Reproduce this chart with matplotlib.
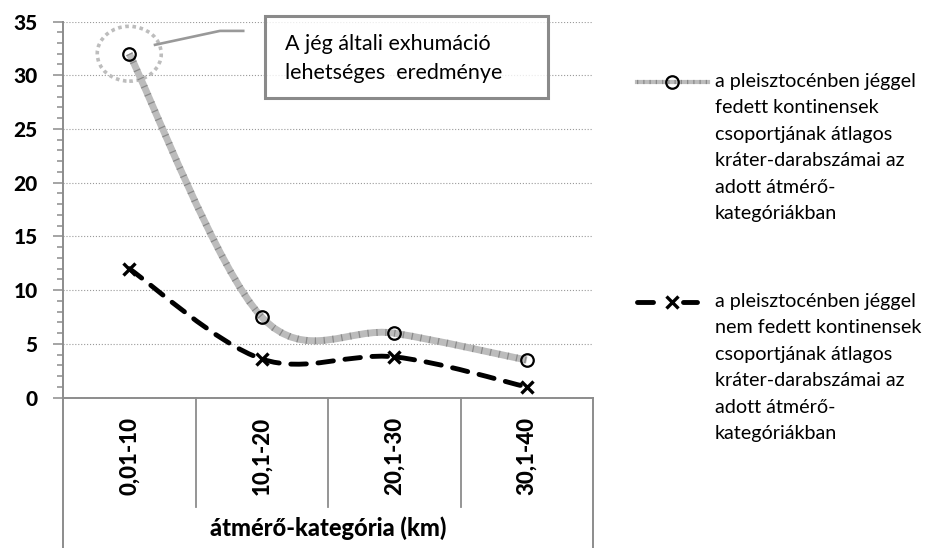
import numpy as np
import matplotlib
matplotlib.use("Agg")
import matplotlib.pyplot as plt
from matplotlib.path import Path
from matplotlib.patches import PathPatch, Ellipse, Rectangle
from matplotlib.lines import Line2D
from matplotlib.font_manager import FontProperties

# crater counts per diameter class
categories = ["0,01-10", "10,1-20", "20,1-30", "30,1-40"]
covered = [32, 7.5, 6, 3.5]
not_covered = [12, 3.6, 3.8, 1]
y_ticks = [0, 5, 10, 15, 20, 25, 30, 35]

x_title = "átmérő-kategória (km)"
callout_lines = ["A jég általi exhumáció", "lehetséges  eredménye"]
legend_covered = ["a pleisztocénben jéggel", "fedett kontinensek",
                  "csoportjának átlagos", "kráter-darabszámai az",
                  "adott átmérő-", "kategóriákban"]
legend_not_covered = ["a pleisztocénben jéggel", "nem fedett kontinensek",
                      "csoportjának átlagos", "kráter-darabszámai az",
                      "adott átmérő-", "kategóriákban"]

plt.rcParams["font.family"] = ["Lato", "DejaVu Sans"]

W, H = 925, 548
GRAY = "#8c8c8c"
ytick_font = FontProperties(family="Lato", weight="black", size=15)
xtick_font = FontProperties(family="Lato", weight="black", size=16)


def smooth_path(xs, ys):
    # Catmull-Rom style bezier through the points (like a smoothed office chart line)
    pts = np.column_stack([xs, ys]).astype(float)
    n = len(pts)
    verts = [pts[0]]
    codes = [Path.MOVETO]
    for i in range(n - 1):
        p0 = pts[max(i - 1, 0)]
        p1 = pts[i]
        p2 = pts[i + 1]
        p3 = pts[min(i + 2, n - 1)]
        verts += [p1 + (p2 - p0) / 6, p2 - (p3 - p1) / 6, p2]
        codes += [Path.CURVE4] * 3
    return Path(verts, codes)


def fig_xy(px, py):
    return px / W, 1 - py / H


fig = plt.figure(figsize=(W / 100, H / 100), dpi=100)
ax = fig.add_axes([63 / W, 1 - 397.7 / H, 530 / W, 376.2 / H])

x = np.arange(len(categories))
ax.set_xlim(-0.5, len(categories) - 0.5)
ax.set_ylim(0, 35)

# axes styling
for side in ["top", "right"]:
    ax.spines[side].set_visible(False)
for side in ["left", "bottom"]:
    ax.spines[side].set_color(GRAY)
    ax.spines[side].set_linewidth(1.4)

ax.set_yticks(y_ticks)
ax.set_yticks(np.arange(0, 36, 1), minor=True)
ax.set_yticklabels([str(v) for v in y_ticks], fontproperties=ytick_font)
ax.tick_params(axis="y", which="major", length=7.2, width=1.1, color=GRAY,
               pad=11)
ax.tick_params(axis="y", which="minor", length=4.3, width=1.1, color=GRAY)

ax.set_xticks(x)
ax.set_xticklabels(categories, rotation=90, fontproperties=xtick_font,
                   va="top", ha="center")
ax.tick_params(axis="x", length=0, pad=14)

ax.yaxis.grid(True, which="major", ls=":", color="#9a9a9a", lw=0.8)
ax.set_axisbelow(True)

# category separators under the axis
xt = ax.get_xaxis_transform()
for b in x[:-1] + 0.5:
    ax.add_line(Line2D([b, b], [0, -0.29], transform=xt, color=GRAY, lw=1.3,
                       clip_on=False))
for b in [-0.5, len(categories) - 0.5]:
    ax.add_line(Line2D([b, b], [0, -0.41], transform=xt, color=GRAY, lw=1.4,
                       clip_on=False))

ax.text(0.5, -0.347, x_title, transform=ax.transAxes, ha="center",
        va="center", fontproperties=FontProperties(family="Lato",
                                                   weight="black", size=17))

# glaciated continents: wide textured grey line
path_c = smooth_path(x, covered)
ax.add_patch(PathPatch(path_c, fc="none", ec="#bcbcbc", lw=5, zorder=3,
                       capstyle="butt"))
ax.add_patch(PathPatch(path_c, fc="none", ec="#8a8a8a", lw=5, zorder=3,
                       ls=(0, (0.18, 1.1)), capstyle="butt"))
ax.plot(x, covered, ls="none", marker="o", mfc="none", mec="black", ms=9,
        mew=1.6, zorder=5)

# non-glaciated continents: black dashed line
path_n = smooth_path(x, not_covered)
ax.add_patch(PathPatch(path_n, fc="none", ec="black", lw=3.5, zorder=4,
                       ls=(0, (3.2, 2.4)), capstyle="round"))
ax.plot(x, not_covered, ls="none", marker="x", color="black", ms=9, mew=2.4,
        zorder=5)

# highlight around the first point and the callout
ax.add_patch(Ellipse((x[0], covered[0]), 0.483, 5.1, fill=False, ec="#bdbdbd",
                     lw=2.6, ls=(0, (1, 1)), zorder=2))
ax.plot([0.1736, 0.296, 0.340], [0.938, 0.975, 0.975], transform=ax.transAxes,
        color="#999999", lw=1.9, clip_on=False, zorder=3)
ax.add_patch(Rectangle((0.381, 0.797), 0.534, 0.218, transform=ax.transAxes,
                       fc=(1, 1, 1, 0.8), ec="#8a8a8a", lw=2.2, clip_on=False,
                       zorder=3))
for i, line in enumerate(callout_lines):
    ax.text(0.419, (397.7 - 50 - i * 29) / 376.2, line, transform=ax.transAxes,
            fontsize=15.5, va="baseline", ha="left", zorder=4)

# legend, drawn by hand so the key sits on the first text line
hx0, hx1, hxm = fig_xy(637, 0)[0], fig_xy(708, 0)[0], fig_xy(672, 0)[0]
hy = fig_xy(0, 82)[1]
fig.add_artist(Line2D([hx0, hx1], [hy, hy], transform=fig.transFigure,
                      color="#bcbcbc", lw=3))
fig.add_artist(Line2D([hx0, hx1], [hy, hy], transform=fig.transFigure,
                      color="#8a8a8a", lw=3, ls=(0, (0.3, 1.2)),
                      dash_capstyle="butt"))
fig.add_artist(Line2D([hxm], [hy], transform=fig.transFigure, ls="none",
                      marker="o", mfc="none", mec="black", ms=9, mew=1.6))

hy2 = fig_xy(0, 302)[1]
for a, b in [(637, 653), (683, 697)]:
    fig.add_artist(Line2D([fig_xy(a, 0)[0], fig_xy(b, 0)[0]], [hy2, hy2],
                          transform=fig.transFigure, color="black", lw=3.5,
                          solid_capstyle="round"))
fig.add_artist(Line2D([hxm], [hy2], transform=fig.transFigure, ls="none",
                      marker="x", color="black", ms=9, mew=2.4))

for base, lines in [(87, legend_covered), (307, legend_not_covered)]:
    for i, line in enumerate(lines):
        tx, ty = fig_xy(715, base + i * 26.4)
        fig.text(tx, ty, line, fontsize=14.2, va="baseline", ha="left")

fig.savefig("out.png", dpi=100)
